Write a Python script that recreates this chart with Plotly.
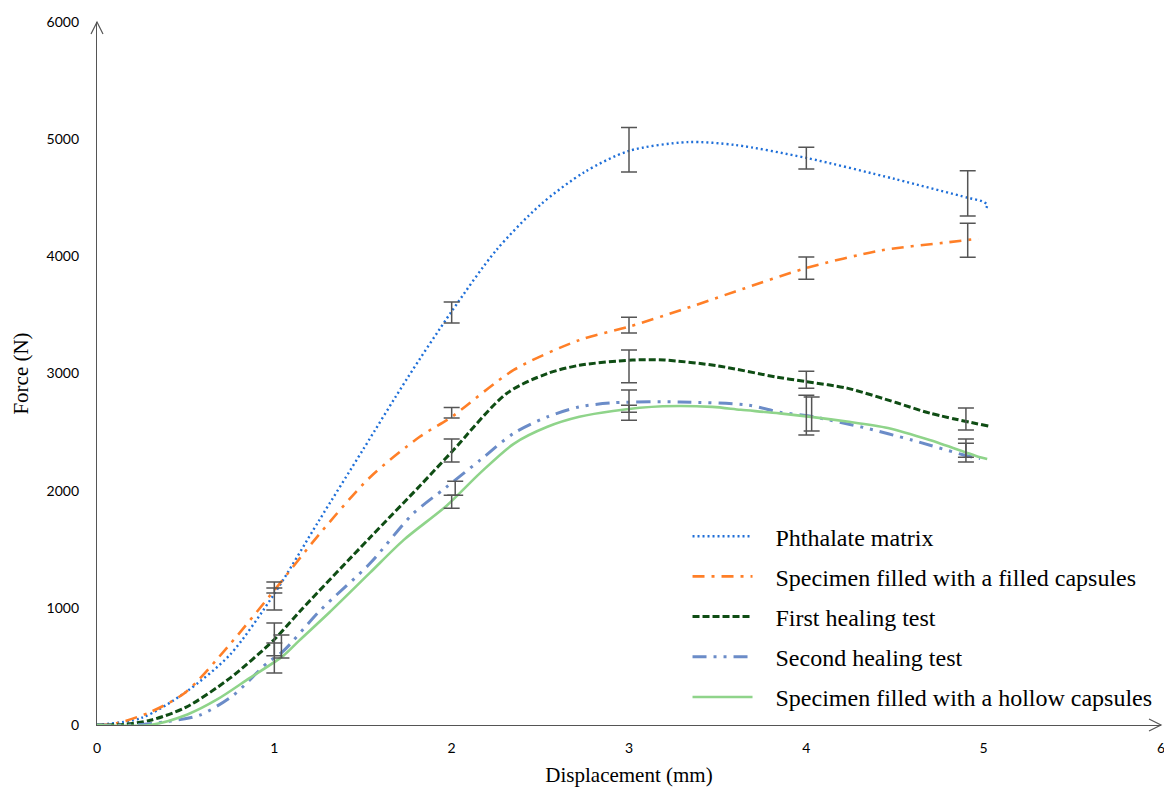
import plotly.graph_objects as go

# ---------------- data ----------------
names = [
    "Phthalate matrix",
    "Specimen filled with a filled capsules",
    "First healing test",
    "Second healing test",
    "Specimen filled with a hollow capsules",
]

pm_x = [0, 0.25, 0.5, 0.75, 1.0, 1.25, 1.5, 1.75, 2.0, 2.25, 2.5, 2.75, 3.0, 3.33, 3.6, 4.0, 4.5, 4.91, 4.99, 5.02, 5.01]
pm_y = [0, 60, 280, 600, 1120, 1740, 2350, 2960, 3530, 4050, 4440, 4720, 4900, 4975, 4950, 4840, 4660, 4500, 4470, 4440, 4400]

fc_x = [0, 0.11, 0.3, 0.5, 0.75, 1.0, 1.26, 1.54, 1.82, 2.0, 2.35, 2.72, 3.0, 3.29, 3.6, 4.0, 4.42, 4.8, 4.97]
fc_y = [0, 15, 110, 280, 690, 1150, 1640, 2115, 2460, 2630, 3030, 3285, 3400, 3540, 3700, 3900, 4050, 4120, 4150]

h1_x = [0, 0.15, 0.3, 0.5, 0.75, 1.0, 1.15, 1.54, 1.82, 2.0, 2.31, 2.54, 2.72, 3.02, 3.2, 3.5, 3.83, 4.0, 4.23, 4.51, 4.7, 5.03]
h1_y = [0, 5, 40, 150, 400, 730, 980, 1600, 2040, 2330, 2830, 3000, 3070, 3115, 3115, 3065, 2970, 2930, 2875, 2750, 2660, 2550]

h2_x = [0, 0.2, 0.4, 0.58, 0.77, 0.96, 1.05, 1.26, 1.54, 1.78, 1.97, 2.16, 2.35, 2.54, 2.72, 2.91, 3.29, 3.67, 3.85, 4.04, 4.32, 4.6, 4.9, 4.98]
h2_y = [0, 0, 30, 85, 256, 530, 630, 980, 1380, 1800, 2030, 2260, 2490, 2630, 2715, 2750, 2757, 2730, 2670, 2630, 2540, 2430, 2300, 2275]

hc_x = [0, 0.3, 0.51, 0.68, 0.86, 1.05, 1.14, 1.31, 1.54, 1.73, 1.97, 2.16, 2.35, 2.54, 2.72, 2.91, 3.19, 3.47, 3.63, 3.85, 4.23, 4.46, 4.7, 4.98, 5.02]
hc_y = [0, 0, 90, 220, 400, 590, 720, 960, 1300, 1580, 1870, 2150, 2400, 2545, 2630, 2680, 2720, 2715, 2690, 2660, 2590, 2535, 2430, 2285, 2270]

# error bars: positions, lower and upper ends
pm_ex = [1.0, 2.0, 3.0, 4.0, 4.91]
pm_lo = [981, 3430, 4720, 4745, 4345]
pm_hi = [1170, 3610, 5100, 4930, 4730]

fc_ex = [1.0, 2.0, 3.0, 4.0, 4.91]
fc_lo = [1126, 2620, 3345, 3805, 3993]
fc_hi = [1220, 2710, 3480, 3995, 4283]

h1_ex = [1.0, 2.0, 3.0, 4.0, 4.9]
h1_lo = [590, 2245, 2920, 2875, 2517]
h1_hi = [870, 2440, 3200, 3020, 2705]

h2_ex = [1.04, 2.02, 3.0, 4.03, 4.9]
h2_lo = [572, 1960, 2670, 2510, 2285]
h2_hi = [768, 2080, 2860, 2800, 2405]

hc_ex = [1.0, 2.0, 3.0, 4.0, 4.9]
hc_lo = [444, 1850, 2600, 2475, 2245]
hc_hi = [700, 1960, 2730, 2815, 2440]

x_ticks = [0, 1, 2, 3, 4, 5, 6]
y_ticks = [0, 1000, 2000, 3000, 4000, 5000, 6000]

# ---------------- styles ----------------
colors = ["#1f6fd8", "#ff7f27", "#0f4d14", "#6b8cc8", "#8fd48a"]
dashes = ["2px,3px", "12px,7px,3px,7px", "7px,3px", "14px,7px,3px,7px,3px,7px", "solid"]
widths = [2.4, 2.6, 3.0, 3.0, 2.6]

series = [
    (pm_x, pm_y, pm_ex, pm_lo, pm_hi),
    (fc_x, fc_y, fc_ex, fc_lo, fc_hi),
    (h1_x, h1_y, h1_ex, h1_lo, h1_hi),
    (h2_x, h2_y, h2_ex, h2_lo, h2_hi),
    (hc_x, hc_y, hc_ex, hc_lo, hc_hi),
]

pad = "\u00a0\u00a0\u00a0"
fig = go.Figure()
for i, (sx, sy, ex, lo, hi) in enumerate(series):
    fig.add_trace(go.Scatter(
        x=sx, y=sy, mode="lines", name=pad + names[i],
        line=dict(color=colors[i], dash=dashes[i], width=widths[i], shape="spline", smoothing=0.8),
        legendgroup=str(i), showlegend=True,
    ))
for i, (sx, sy, ex, lo, hi) in enumerate(series):
    mids = [(a + b) / 2 for a, b in zip(lo, hi)]
    half = [(b - a) / 2 for a, b in zip(lo, hi)]
    fig.add_trace(go.Scatter(
        x=ex, y=mids, mode="markers", marker=dict(size=1, opacity=0),
        error_y=dict(type="data", array=half, visible=True, color="#555555", thickness=1.5, width=8),
        showlegend=False, hoverinfo="skip",
    ))

# axis arrows (paper coordinates, not clipped)
pw, ph = 1064.0, 703.0
fig.add_shape(type="path", xref="paper", yref="paper",
              path=f"M {-6/pw},{1-12/ph} L 0,1 L {6/pw},{1-12/ph}",
              line=dict(color="#555555", width=1.2))
fig.add_shape(type="path", xref="paper", yref="paper",
              path=f"M {1-12/pw},{6/ph} L 1,0 L {1-12/pw},{-6/ph}",
              line=dict(color="#555555", width=1.2))

fig.update_layout(
    width=1164, height=792,
    margin=dict(l=97, r=3, t=22, b=67, autoexpand=False),
    paper_bgcolor="white", plot_bgcolor="white",
    font=dict(family="Lato", size=14, color="black"),
    showlegend=True,
    legend=dict(
        x=0.555, y=0.3, xanchor="left", yanchor="top",
        bgcolor="rgba(0,0,0,0)", borderwidth=0,
        font=dict(family="Liberation Serif", size=24, color="black"),
        itemwidth=60, tracegroupgap=6,
    ),
    xaxis=dict(
        range=[0, 6], tickvals=x_ticks, ticktext=[str(v) for v in x_ticks],
        showline=True, linecolor="#555555", linewidth=1.2, showgrid=False, zeroline=False,
        ticks="", tickfont=dict(family="Lato", size=14, color="black"), ticklabelstandoff=10,
        ticklabeloverflow="allow",
        title=dict(text="Displacement (mm)", font=dict(family="Liberation Serif", size=21, color="black"), standoff=12),
        automargin=False,
    ),
    yaxis=dict(
        range=[0, 6000], tickvals=y_ticks, ticktext=[str(v) for v in y_ticks],
        showline=True, linecolor="#555555", linewidth=1.2, showgrid=False, zeroline=False,
        ticks="", tickfont=dict(family="Lato", size=14, color="black"), ticklabelstandoff=14,
        ticklabeloverflow="allow",
        title=dict(text="Force (N)", font=dict(family="Liberation Serif", size=21, color="black"), standoff=12),
        automargin=False,
    ),
)

fig.write_html("out.html")
